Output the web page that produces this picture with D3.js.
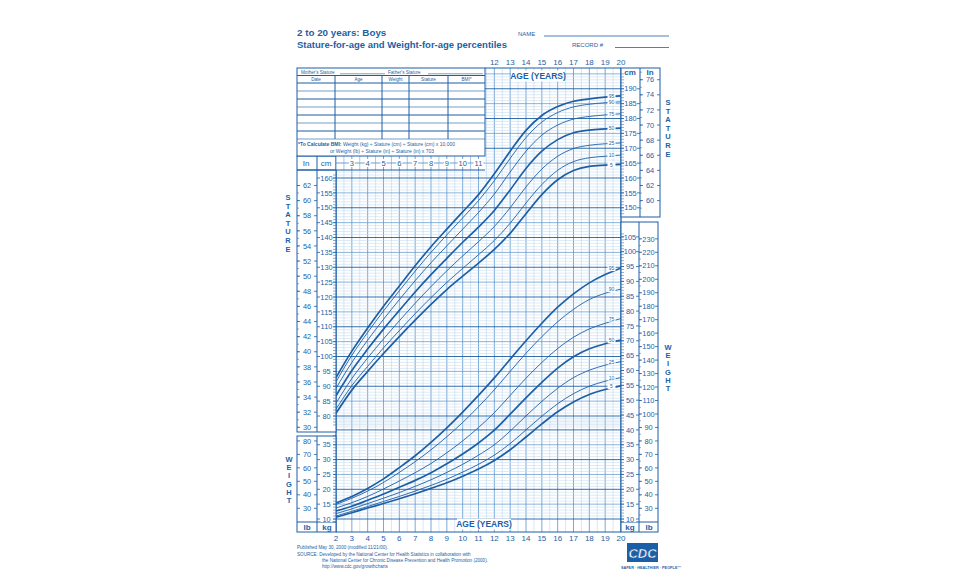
<!DOCTYPE html>
<html><head><meta charset="utf-8">
<script src="https://cdn.jsdelivr.net/npm/d3@7"></script>
<style>body{margin:0;background:#fff}svg{display:block}text{font-family:"Liberation Sans",Arial,sans-serif}</style>
</head><body><svg id="c" width="960" height="585"></svg>
<script>
// ---------------- DATA ----------------
const ages = [2,3,4,5,6,7,8,9,10,11,12,13,14,15,16,17,18,19,20];
const percentiles = ["5","10","25","50","75","90","95"];
const statureP5  = [80.9,88.7,95.0,101.0,106.7,112.2,117.5,122.5,127.0,131.4,136.0,141.4,148.0,154.4,159.4,162.5,163.9,164.3,164.6];
const statureP10 = [82.3,90.2,96.7,102.9,108.7,114.4,119.8,124.9,129.6,134.2,139.0,144.8,151.6,157.8,162.6,165.5,166.8,167.3,167.7];
const statureP25 = [84.3,92.6,99.5,105.9,112.0,117.9,123.5,128.8,133.8,138.6,143.7,150.0,157.0,163.0,167.3,169.9,171.0,171.5,171.8];
const statureP50 = [86.8,95.3,102.5,109.2,115.5,121.7,127.5,133.0,138.4,143.5,149.1,156.0,163.2,169.0,172.9,175.2,176.1,176.5,176.8];
const statureP75 = [89.3,98.0,105.5,112.5,119.1,125.5,131.5,137.2,142.8,148.4,154.6,162.0,169.0,174.4,177.8,179.8,180.7,181.2,181.6];
const statureP90 = [91.5,100.4,108.1,115.3,122.1,128.7,135.0,140.9,146.6,152.4,159.1,166.6,173.6,178.8,182.0,183.9,184.8,185.3,185.6];
const statureP95 = [92.9,101.8,109.6,116.9,123.7,130.5,136.9,142.8,148.6,154.4,161.4,169.0,176.0,181.0,184.0,185.8,186.6,187.2,187.6];
const weightP5  = [10.6,12.1,13.7,15.2,16.8,18.5,20.3,22.2,24.4,26.8,29.7,33.3,37.6,42.0,46.1,49.4,51.9,53.6,54.8];
const weightP10 = [11.0,12.6,14.2,15.9,17.6,19.4,21.3,23.4,25.8,28.4,31.5,35.4,40.0,44.6,48.8,52.2,54.7,56.4,57.6];
const weightP25 = [11.8,13.4,15.2,17.0,18.9,21.0,23.2,25.7,28.4,31.5,35.0,39.6,44.7,49.6,54.0,57.6,60.1,61.8,63.0];
const weightP50 = [12.7,14.3,16.3,18.4,20.7,23.0,25.6,28.6,31.9,35.6,39.9,45.3,50.8,56.0,60.8,64.6,67.3,69.0,70.2];
const weightP75 = [13.7,15.5,17.6,20.1,22.8,25.6,28.7,32.3,36.3,40.8,45.8,51.6,57.4,62.7,67.4,71.2,74.0,75.9,77.5];
const weightP90 = [14.9,17.0,19.4,22.3,25.7,29.3,33.3,37.7,42.5,47.8,53.5,59.7,65.8,71.4,76.4,80.6,83.9,86.0,87.4];
const weightP95 = [15.4,17.6,20.3,23.5,27.3,31.3,35.8,40.7,46.0,51.6,57.5,63.8,70.0,75.9,81.3,85.8,89.5,92.3,94.5];
const ageLabelsBottom = [2,3,4,5,6,7,8,9,10,11,12,13,14,15,16,17,18,19,20];
const ageLabelsTop = [12,13,14,15,16,17,18,19,20];
const ageLabelsInner = [3,4,5,6,7,8,9,10,11];
const leftCmTicks = [80,85,90,95,100,105,110,115,120,125,130,135,140,145,150,155,160];
const leftInTicks = [30,32,34,36,38,40,42,44,46,48,50,52,54,56,58,60,62];
const rightCmTicks = [150,155,160,165,170,175,180,185,190];
const rightInTicks = [60,62,64,66,68,70,72,74,76];
const rightKgTicks = [10,15,20,25,30,35,40,45,50,55,60,65,70,75,80,85,90,95,100,105];
const rightLbTicks = [30,40,50,60,70,80,90,100,110,120,130,140,150,160,170,180,190,200,210,220,230];
const leftKgTicks = [10,15,20,25,30,35];
const leftLbTicks = [30,40,50,60,70,80];
const tableCols = ["Date","Age","Weight","Stature","BMI*"];

// ---------------- SETUP ----------------
const B = "#1d5fa6", GL = "#bcd7ef", GM = "#6a9fd3";
const svg = d3.select("#c");
const x = d3.scaleLinear().domain([2,20]).range([336,621]);
const yS = d3.scaleLinear().domain([80,190]).range([416,416-110*2.975]);
const yW = d3.scaleLinear().domain([10,105]).range([519,519-95*2.97]);
const IN = 2.54, LB = 0.45359;
const g = svg.append("g");

// ---------------- GRID ----------------
const grid = g.append("g");
const halfYears = d3.range(4, 41).map(d => d/2);
grid.selectAll("line.v").data(halfYears).join("line")
  .attr("x1", d => x(d)).attr("x2", d => x(d))
  .attr("y1", d => x(d) >= 485 ? 68 : 156).attr("y2", 532)
  .attr("stroke", d => Number.isInteger(d) ? GM : GL)
  .attr("stroke-width", d => Number.isInteger(d) ? 0.9 : 0.6);
const cmLines = d3.range(77, 196);
grid.selectAll("line.hs").data(cmLines).join("line")
  .attr("x1", d => yS(d) < 170 ? 485 : 336).attr("x2", 621)
  .attr("y1", d => yS(d)).attr("y2", d => yS(d))
  .attr("stroke", d => d % 10 === 0 ? B : (d % 5 === 0 ? GM : GL))
  .attr("stroke-width", d => d % 10 === 0 ? 0.9 : (d % 5 === 0 ? 0.8 : 0.5));
const kgLines = d3.range(10, 45);
grid.selectAll("line.hw").data(kgLines).join("line")
  .attr("x1", 336).attr("x2", 621)
  .attr("y1", d => yW(d)).attr("y2", d => yW(d))
  .attr("stroke", d => d % 10 === 0 ? B : (d % 5 === 0 ? GM : GL))
  .attr("stroke-width", d => d % 10 === 0 ? 0.9 : (d % 5 === 0 ? 0.8 : 0.5));
g.append("path").attr("d","M336,170 V532 H621 V68 H485").attr("fill","none").attr("stroke",B).attr("stroke-width",1);

// ---------------- CURVES ----------------
const line = (ys, vals) => d3.line().curve(d3.curveMonotoneX).x((d,i)=>x(ages[i])).y(d=>ys(d))(vals);
const stat = [statureP5,statureP10,statureP25,statureP50,statureP75,statureP90,statureP95];
const wgt = [weightP5,weightP10,weightP25,weightP50,weightP75,weightP90,weightP95];
const bold = p => p==="5"||p==="50"||p==="95";
[[stat,yS],[wgt,yW]].forEach(([arr,ys]) => {
  g.append("g").selectAll("path").data(arr).join("path")
    .attr("d", v => line(ys, v)).attr("fill","none").attr("stroke",B)
    .attr("stroke-width",(v,i)=>bold(percentiles[i])?1.7:0.9);
  const lab = g.append("g").selectAll("g").data(arr).join("g")
    .attr("transform",(v)=>`translate(${x(19.4)},${ys(v[v.length-1]-0.15)})`);
  lab.append("rect").attr("x",-4).attr("y",-2.6).attr("width",8).attr("height",5.2).attr("fill","#fff");
  lab.append("text").text((v,i)=>percentiles[i]).attr("text-anchor","middle").attr("dy","0.35em")
    .attr("font-size",5).attr("fill",B);
});

// ---------------- AXIS BOXES ----------------
function box(x0,y0,x1,y1){ g.append("rect").attr("x",x0).attr("y",y0).attr("width",x1-x0).attr("height",y1-y0).attr("fill","none").attr("stroke",B).attr("stroke-width",1); }
function vline(xx,y0,y1){ g.append("line").attr("x1",xx).attr("x2",xx).attr("y1",y0).attr("y2",y1).attr("stroke",B).attr("stroke-width",1); }
function hline(x0,x1,yy){ g.append("line").attr("x1",x0).attr("x2",x1).attr("y1",yy).attr("y2",yy).attr("stroke",B).attr("stroke-width",1); }
function ticks(vals, yf, x0, x1, fs){
  const gg = g.append("g");
  const t = gg.selectAll("g").data(vals).join("g").attr("transform",d=>`translate(0,${yf(d)})`);
  t.append("rect").attr("x",(x0+x1)/2-6).attr("y",-3).attr("width",12).attr("height",6).attr("fill","#fff");
  t.append("line").attr("x1",x0).attr("x2",x0+3).attr("stroke",B).attr("stroke-width",0.8);
  t.append("line").attr("x1",x1-3).attr("x2",x1).attr("stroke",B).attr("stroke-width",0.8);
  t.append("text").text(d=>d).attr("x",(x0+x1)/2).attr("text-anchor","middle").attr("dy","0.36em")
    .attr("font-size",fs).attr("fill",B);
}
function minor(vals, yf, xx, len){
  g.append("g").selectAll("line").data(vals).join("line").attr("x1",xx).attr("x2",xx+len)
   .attr("y1",d=>yf(d)).attr("y2",d=>yf(d)).attr("stroke",B).attr("stroke-width",0.5);
}
g.append("rect").attr("x",297).attr("y",156).attr("width",39).attr("height",276).attr("fill","#fff");
box(297,156,336,432); vline(317,156,432); hline(297,336,170);
minor(d3.range(77,162), yS, 333, 3);
minor(d3.range(30,63), d=>yS(d*IN), 297, 2);
ticks(leftInTicks, d=>yS(d*IN), 297, 317, 7.4);
ticks(leftCmTicks, yS, 317, 336, 7.4);
g.append("text").text("In").attr("x",306).attr("y",166).attr("text-anchor","middle").attr("font-size",8).attr("fill",B);
g.append("text").text("cm").attr("x",326).attr("y",166).attr("text-anchor","middle").attr("font-size",8).attr("fill",B);
g.append("rect").attr("x",297).attr("y",436).attr("width",39).attr("height",96).attr("fill","#fff");
box(297,436,336,532); vline(317,436,532); hline(297,336,522);
minor(d3.range(9,39), yW, 333, 3);
ticks(leftLbTicks, d=>yW(d*LB), 297, 317, 7.4);
ticks(leftKgTicks, yW, 317, 336, 7.4);
g.append("text").text("lb").attr("x",307).attr("y",530).attr("text-anchor","middle").attr("font-size",8).attr("font-weight","bold").attr("fill",B);
g.append("text").text("kg").attr("x",327).attr("y",530).attr("text-anchor","middle").attr("font-size",8).attr("font-weight","bold").attr("fill",B);
g.append("rect").attr("x",621).attr("y",68).attr("width",39).attr("height",149).attr("fill","#fff");
box(621,68,660,217); vline(640,68,217);
minor(d3.range(148,196), yS, 621, 3);
minor(d3.range(59,78), d=>yS(d*IN), 640, 2);
ticks(rightCmTicks, yS, 621, 640, 7.4);
ticks(rightInTicks, d=>yS(d*IN), 640, 660, 7.4);
g.append("text").text("cm").attr("x",630).attr("y",75).attr("text-anchor","middle").attr("font-size",8).attr("font-weight","bold").attr("fill",B);
g.append("text").text("In").attr("x",650).attr("y",75).attr("text-anchor","middle").attr("font-size",8).attr("font-weight","bold").attr("fill",B);
g.append("rect").attr("x",621).attr("y",222).attr("width",37).attr("height",310).attr("fill","#fff");
box(621,222,658,532); vline(639,222,532); hline(621,658,522);
minor(d3.range(9,107), yW, 621, 3);
minor(d3.range(25,235,5), d=>yW(d*LB), 639, 2);
ticks(rightKgTicks, yW, 621, 639, 7.4);
ticks(rightLbTicks, d=>yW(d*LB), 639, 658, 7.4);
g.append("text").text("kg").attr("x",630).attr("y",530).attr("text-anchor","middle").attr("font-size",8).attr("font-weight","bold").attr("fill",B);
g.append("text").text("lb").attr("x",649).attr("y",530).attr("text-anchor","middle").attr("font-size",8).attr("font-weight","bold").attr("fill",B);

function vword(w, xx, y0, step){
  g.append("g").selectAll("text").data(w.split("")).join("text").text(d=>d)
   .attr("x",xx).attr("y",(d,i)=>y0+i*step).attr("text-anchor","middle")
   .attr("font-size",7.5).attr("font-weight","bold").attr("fill",B);
}
vword("STATURE", 288, 200, 8.6);
vword("STATURE", 668, 105, 8.6);
vword("WEIGHT", 289, 462, 8.2);
vword("WEIGHT", 668, 350, 8.2);

// ---------------- AGE LABELS ----------------
g.append("g").selectAll("text").data(ageLabelsBottom).join("text").text(d=>d)
  .attr("x",d=>x(d)).attr("y",541).attr("text-anchor","middle").attr("font-size",8).attr("fill",B);
g.append("g").selectAll("text").data(ageLabelsTop).join("text").text(d=>d)
  .attr("x",d=>x(d)).attr("y",65).attr("text-anchor","middle").attr("font-size",8).attr("fill",B);
g.append("rect").attr("x",336).attr("y",156).attr("width",149).attr("height",14).attr("fill","#fff");
g.append("line").attr("x1",336).attr("x2",485).attr("y1",163).attr("y2",163).attr("stroke",B).attr("stroke-width",0.6);
halfYears.filter(d=>x(d)<485).forEach(d=>{ g.append("line").attr("x1",x(d)).attr("x2",x(d)).attr("y1",156).attr("y2",170).attr("stroke",Number.isInteger(d)?B:GM).attr("stroke-width",0.6); });
g.append("g").selectAll("g").data(ageLabelsInner).join("g").attr("transform",d=>`translate(${x(d)},163)`).call(s=>{
  s.append("rect").attr("x",d=>d>9?-5:-3).attr("y",-4).attr("width",d=>d>9?10:6).attr("height",8).attr("fill","#fff");
  s.append("text").text(d=>d).attr("text-anchor","middle").attr("dy","0.35em").attr("font-size",7.5).attr("fill",B);
});
hline(297,485,170);
[[538,76],[484,524]].forEach(([cx,cy])=>{
  g.append("rect").attr("x",cx-27).attr("y",cy-5.5).attr("width",54).attr("height",11).attr("fill","#fff");
  g.append("text").text("AGE (YEARS)").attr("x",cx).attr("y",cy+3.2).attr("text-anchor","middle")
    .attr("font-size",8.5).attr("font-weight","bold").attr("fill",B);
});

// ---------------- TABLE ----------------
g.append("rect").attr("x",297).attr("y",68).attr("width",188).attr("height",88).attr("fill","#fff").attr("stroke",B).attr("stroke-width",1);
g.append("text").text("Mother's Stature").attr("x",301).attr("y",73.5).attr("font-size",4.6).attr("fill",B);
g.append("line").attr("x1",340).attr("x2",385).attr("y1",73.8).attr("y2",73.8).attr("stroke",B).attr("stroke-width",0.6);
g.append("text").text("Father's Stature").attr("x",388).attr("y",73.5).attr("font-size",4.6).attr("fill",B);
g.append("line").attr("x1",428).attr("x2",483).attr("y1",73.8).attr("y2",73.8).attr("stroke",B).attr("stroke-width",0.6);
hline(297,485,75.5);
const colX = [297,335,382,409,448,485];
tableCols.forEach((c,i)=>{
  g.append("text").text(c).attr("x",(colX[i]+colX[i+1])/2).attr("y",80.5).attr("text-anchor","middle").attr("font-size",4.6).attr("fill",B);
});
[1,2,3,4].forEach(i=>vline(colX[i],75.5,139));
[83,91,99,107,115,123,131,139].forEach((yy,i)=>{
  g.append("line").attr("x1",297).attr("x2",485).attr("y1",yy).attr("y2",yy).attr("stroke",B).attr("stroke-width",i%2===0?1:0.6);
});
g.append("text").attr("x",298).attr("y",145.5).attr("font-size",5).attr("fill",B).call(t=>{
  t.append("tspan").text("*To Calculate BMI: ").attr("font-weight","bold");
  t.append("tspan").text("Weight (kg) ÷ Stature (cm) ÷ Stature (cm) x 10,000");
});
g.append("text").text("or Weight (lb) ÷ Stature (in) ÷ Stature (in) x 703").attr("x",330).attr("y",152.5).attr("font-size",5).attr("fill",B);

// ---------------- HEADER ----------------
g.append("text").text("2 to 20 years: Boys").attr("x",297).attr("y",36).attr("font-size",9.8).attr("font-weight","bold").attr("fill",B);
g.append("text").text("Stature-for-age and Weight-for-age percentiles").attr("x",297).attr("y",48).attr("font-size",9.5).attr("font-weight","bold").attr("fill",B);
g.append("text").text("NAME").attr("x",518).attr("y",36).attr("font-size",6).attr("fill",B);
g.append("line").attr("x1",544).attr("x2",669).attr("y1",36).attr("y2",36).attr("stroke",B).attr("stroke-width",0.8);
g.append("text").text("RECORD #").attr("x",572).attr("y",47).attr("font-size",6).attr("fill",B);
g.append("line").attr("x1",615).attr("x2",669).attr("y1",47.5).attr("y2",47.5).attr("stroke",B).attr("stroke-width",0.8);

// ---------------- FOOTER ----------------
const foot = [["Published May 30, 2000 (modified 11/21/00).",297,549],
  ["SOURCE: Developed by the National Center for Health Statistics in collaboration with",297,555.5],
  ["the National Center for Chronic Disease Prevention and Health Promotion (2000).",322,561.5],
  ["http://www.cdc.gov/growthcharts",322,567.5]];
foot.forEach(([t,xx,yy])=>g.append("text").text(t).attr("x",xx).attr("y",yy).attr("font-size",4.6).attr("fill",B));
g.append("rect").attr("x",627).attr("y",543).attr("width",31).attr("height",19).attr("fill",B);
g.append("text").text("CDC").attr("x",642.5).attr("y",557.5).attr("text-anchor","middle").attr("font-size",13)
  .attr("font-weight","bold").attr("font-style","italic").attr("fill","#fff").attr("stroke",B).attr("stroke-width",0.5);
g.append("text").text("SAFER · HEALTHIER · PEOPLE™").attr("x",621).attr("y",568.5).attr("font-size",3.8).attr("font-weight","bold").attr("fill",B);
</script></body></html>
